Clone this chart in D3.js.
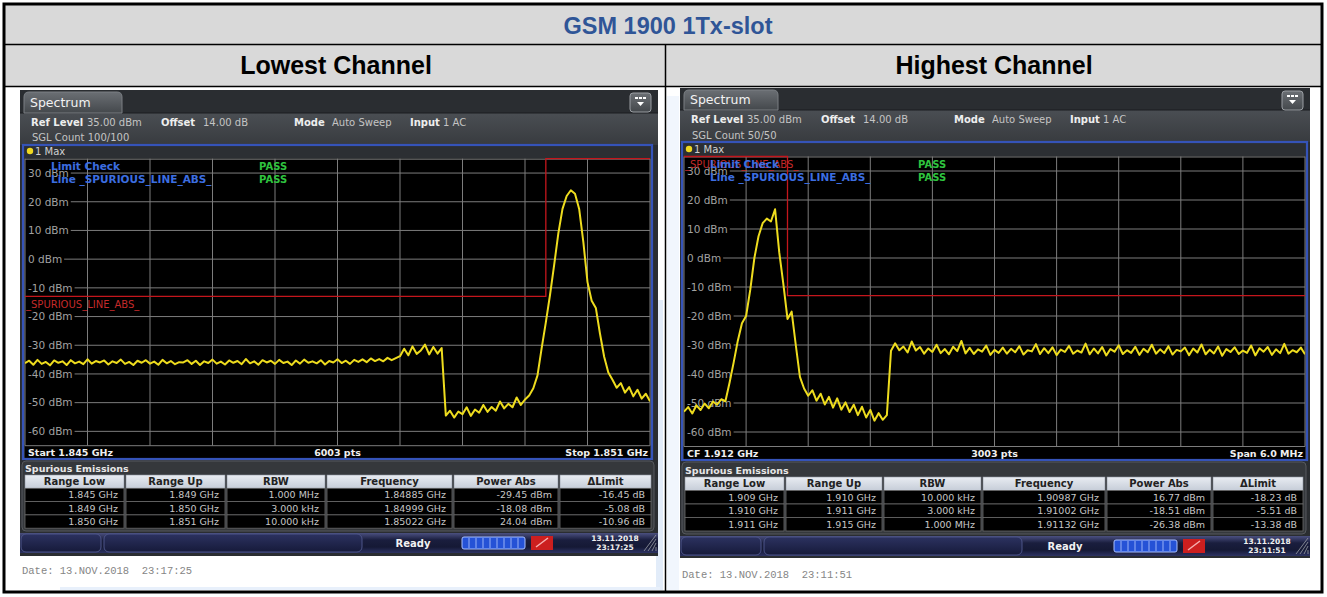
<!DOCTYPE html>
<html>
<head>
<meta charset="utf-8">
<style>
  body { margin: 0; background: #fff; }
  text { font-family: "DejaVu Sans", sans-serif; }
</style>
</head>
<body>
<svg width="1327" height="597"></svg>
<script src="https://d3js.org/d3.v7.min.js"></script>
<script>

// ---- data ----
var title = "GSM 1900 1Tx-slot";
var columnTitles = ["Lowest Channel", "Highest Channel"];
var dbmTicks = [30, 20, 10, 0, -10, -20, -30, -40, -50, -60];
var refLevel = 35, bottomLevel = -65;
var traceStepMHz = 0.04;

var lowStartMHz = 1845, lowStopMHz = 1851;
var highStartMHz = 1909, highStopMHz = 1915;

// max-hold trace, one value every 0.04 MHz from the start frequency (dBm)
var lowTrace = [
  -36.2,-35.4,-36.8,-35.1,-36.5,-35.8,-37.0,-35.3,-36.1,-35.6,
  -36.9,-35.2,-36.3,-35.7,-36.6,-34.9,-36.4,-35.5,-36.0,-35.3,
  -36.7,-35.6,-36.2,-35.0,-36.5,-35.8,-36.9,-35.4,-36.1,-35.2,
  -36.4,-35.7,-36.8,-35.1,-36.3,-35.5,-36.6,-35.9,-36.0,-35.2,
  -36.5,-35.4,-36.9,-35.6,-36.2,-35.0,-36.4,-35.7,-36.7,-35.3,
  -36.1,-35.5,-36.6,-34.8,-36.3,-35.6,-36.8,-35.2,-36.0,-35.4,
  -36.5,-35.1,-36.2,-35.7,-36.9,-35.3,-36.4,-35.0,-36.1,-35.6,
  -36.3,-35.2,-36.7,-35.5,-36.0,-34.9,-36.2,-35.4,-36.5,-35.1,
  -35.8,-34.9,-35.9,-34.6,-35.5,-34.8,-35.6,-34.4,-35.2,-34.5,
  -33.8,-31.2,-33.5,-30.4,-33.0,-31.8,-29.8,-33.2,-30.6,-32.9,-31.0,
  -54.5,-52.8,-55.2,-53.1,-54.0,-51.6,-54.6,-52.4,-53.5,-50.8,
  -53.2,-51.5,-52.8,-49.6,-52.0,-50.4,-51.6,-48.2,-50.8,-48.9,
  -47.5,-45.0,-40.5,-31.0,-22.0,-12.5,-2.0,9.0,17.5,22.0,
  24.0,22.8,17.5,6.0,-8.0,-14.5,-17.0,-26.0,-34.0,-39.5,
  -42.0,-44.8,-43.2,-46.5,-44.6,-47.8,-45.5,-48.6,-46.9,-49.5
];
var highTrace = [
  -53.0,-51.4,-53.6,-50.8,-52.4,-50.2,-51.8,-49.5,-50.6,-48.7,-49.4,
  -43.0,-36.0,-28.5,-22.5,-20.0,-11.0,0.0,7.5,12.0,13.6,
  12.6,16.8,2.0,-9.0,-21.0,-18.5,-30.0,-41.0,-45.0,-47.5,
  -45.6,-49.2,-46.8,-50.5,-47.9,-51.6,-48.4,-52.3,-49.8,-53.1,
  -50.6,-54.2,-51.3,-55.0,-52.4,-56.1,-53.5,-55.8,-54.2,
  -32.0,-29.4,-31.8,-30.5,-32.6,-28.8,-31.9,-30.7,-33.0,-31.2,
  -32.4,-29.9,-32.8,-31.4,-33.2,-30.6,-32.1,-28.6,-32.9,-31.0,
  -33.1,-31.5,-32.3,-30.2,-33.4,-31.7,-32.7,-30.9,-33.0,-31.3,
  -32.5,-30.4,-33.3,-31.8,-32.2,-29.7,-33.1,-31.1,-32.8,-30.8,
  -33.5,-31.6,-32.4,-30.3,-33.0,-31.9,-32.6,-29.5,-33.2,-31.2,
  -32.9,-30.7,-33.6,-31.4,-32.3,-30.1,-33.1,-31.8,-32.7,-30.6,
  -33.4,-31.3,-32.5,-29.9,-33.0,-31.5,-32.8,-30.4,-33.3,-31.7,
  -32.2,-30.9,-33.5,-31.2,-32.6,-29.8,-33.2,-31.6,-32.9,-30.5,
  -33.7,-31.4,-32.4,-30.8,-33.1,-31.9,-32.7,-30.2,-33.6,-31.1,
  -32.3,-30.7,-33.4,-31.5,-32.8,-29.6,-33.0,-31.8,-32.5,-30.9,
  -33.2
];

// limit line _SPURIOUS_LINE_ABS_
var lowLimitMHz = [1845, 1850, 1850, 1851];
var lowLimitDbm = [-13, -13, 35, 35];
var highLimitMHz = [1909, 1910, 1910, 1915];
var highLimitDbm = [35, 35, -13, -13];

var tableHeads = ["Range Low", "Range Up", "RBW", "Frequency", "Power Abs", "\u0394Limit"];
var lowRows = [
  ["1.845 GHz", "1.849 GHz", "1.000 MHz", "1.84885 GHz", "-29.45 dBm", "-16.45 dB"],
  ["1.849 GHz", "1.850 GHz", "3.000 kHz", "1.84999 GHz", "-18.08 dBm", "-5.08 dB"],
  ["1.850 GHz", "1.851 GHz", "10.000 kHz", "1.85022 GHz", "24.04 dBm", "-10.96 dB"]
];
var highRows = [
  ["1.909 GHz", "1.910 GHz", "10.000 kHz", "1.90987 GHz", "16.77 dBm", "-18.23 dB"],
  ["1.910 GHz", "1.911 GHz", "3.000 kHz", "1.91002 GHz", "-18.51 dBm", "-5.51 dB"],
  ["1.911 GHz", "1.915 GHz", "1.000 MHz", "1.91132 GHz", "-26.38 dBm", "-13.38 dB"]
];

var lowInfo = ["35.00 dBm", "14.00 dB", "Auto Sweep", "1 AC", "SGL Count 100/100"];
var highInfo = ["35.00 dBm", "14.00 dB", "Auto Sweep", "1 AC", "SGL Count 50/50"];
var lowFooter = ["Start 1.845 GHz", "6003 pts", "Stop 1.851 GHz"];
var highFooter = ["CF 1.912 GHz", "3003 pts", "Span 6.0 MHz"];
var lowStamp = ["13.11.2018", "23:17:25", "Date: 13.NOV.2018  23:17:25"];
var highStamp = ["13.11.2018", "23:11:51", "Date: 13.NOV.2018  23:11:51"];

// ---- layout of the two screenshots ----
var panels = [
  { start: lowStartMHz, stop: lowStopMHz, trace: lowTrace, limMHz: lowLimitMHz, limDbm: lowLimitDbm,
    info: lowInfo, foot: lowFooter, rows: lowRows, stamp: lowStamp, limLabel: "below",
    box: {x: 20, y: 90, w: 638, h: 466}, tabW: 98, tabB: 113, row1: 126, row2: 141, blue: 145, maxB: 155,
    plot: {l: 25, r: 650, t: 158.7, b: 445.7}, footB: 456, footBot: 459,
    spurY: 461, spurH: 70, spurB: 472, headY: 475, rowH: 13.3,
    cols: [[25,124],[126,225],[227,325],[327,452],[454,558],[560,651]],
    tool: [533, 553], dateB: 574 },
  { start: highStartMHz, stop: highStopMHz, trace: highTrace, limMHz: highLimitMHz, limDbm: highLimitDbm,
    info: highInfo, foot: highFooter, rows: highRows, stamp: highStamp, limLabel: "top",
    box: {x: 680, y: 88, w: 630, h: 470}, tabW: 94, tabB: 110, row1: 123, row2: 139, blue: 142, maxB: 153,
    plot: {l: 684, r: 1305, t: 156.5, b: 446.5}, footB: 457, footBot: 460,
    spurY: 462, spurH: 72, spurB: 474, headY: 477, rowH: 13.5,
    cols: [[685,784],[786,882],[884,981],[983,1105],[1107,1211],[1213,1303]],
    tool: [536, 556], dateB: 578 }
];

var svg = d3.select("svg");
var defs = svg.append("defs");

function grad(id, stops) {
  var lg = defs.append("linearGradient").attr("id", id)
      .attr("x1", 0).attr("y1", 0).attr("x2", 0).attr("y2", 1);
  stops.forEach(function(s) { lg.append("stop").attr("offset", s[0]).attr("stop-color", s[1]); });
}
grad("gInfo", [[0, "#4a4e53"], [1, "#383b3f"]]);
grad("gTab", [[0, "#6b6f74"], [1, "#44484c"]]);
grad("gTool", [[0, "#4b5080"], [0.35, "#1a1e3e"], [0.7, "#151935"], [1, "#2d3363"]]);
grad("gHead", [[0, "#e8ecf2"], [1, "#c6cdd8"]]);
grad("gSeg", [[0, "#2c3260"], [1, "#161a3a"]]);

// ---- document table ----
svg.append("rect").attr("x", 4).attr("y", 4).attr("width", 1318).attr("height", 82).attr("fill", "#d9d9d9");

// faint bluish page artefacts beside the screenshots
svg.append("rect").attr("x", 656).attr("y", 300).attr("width", 7).attr("height", 290).attr("fill", "#e2ecf9");
svg.append("rect").attr("x", 667).attr("y", 96).attr("width", 12).attr("height", 494).attr("fill", "#f1f6fd");
svg.append("rect").attr("x", 60).attr("y", 587).attr("width", 600).attr("height", 3).attr("fill", "#e8f0fb");

svg.append("line").attr("x1", 4).attr("x2", 1322).attr("y1", 44.5).attr("y2", 44.5).attr("stroke", "#000").attr("stroke-width", 1.5);
svg.append("line").attr("x1", 4).attr("x2", 1322).attr("y1", 86.5).attr("y2", 86.5).attr("stroke", "#000").attr("stroke-width", 1.5);
svg.append("line").attr("x1", 665.5).attr("x2", 665.5).attr("y1", 44).attr("y2", 593).attr("stroke", "#000").attr("stroke-width", 1.5);
svg.append("rect").attr("x", 4).attr("y", 4).attr("width", 1318).attr("height", 588)
    .attr("fill", "none").attr("stroke", "#000").attr("stroke-width", 3);

svg.append("text").attr("x", 668).attr("y", 34).attr("text-anchor", "middle")
    .style("font-family", "'Liberation Sans', Arial, sans-serif").attr("font-weight", 700)
    .attr("font-size", 23.5).attr("fill", "#2f5597").text(title);
columnTitles.forEach(function(t, i) {
  svg.append("text").attr("x", i ? 994 : 336).attr("y", 74).attr("text-anchor", "middle")
      .style("font-family", "'Liberation Sans', Arial, sans-serif").attr("font-weight", 700)
      .attr("font-size", 25).attr("fill", "#000").text(t);
});

// ---- one analyzer screenshot ----
function drawPanel(p, k) {
  var b = p.box, fr = b.x + b.w, g = svg.append("g");
  var x = d3.scaleLinear().domain([p.start, p.stop]).range([p.plot.l, p.plot.r]);
  var y = d3.scaleLinear().domain([bottomLevel, refLevel]).range([p.plot.b, p.plot.t]);

  g.append("rect").attr("x", b.x).attr("y", b.y).attr("width", b.w).attr("height", b.h).attr("fill", "#2a2d31");
  g.append("rect").attr("x", b.x).attr("y", p.tabB).attr("width", b.w).attr("height", p.blue - p.tabB).attr("fill", "url(#gInfo)");
  g.append("line").attr("x1", b.x).attr("x2", fr).attr("y1", p.tabB).attr("y2", p.tabB).attr("stroke", "#1b1d20");

  // tab
  var tx = b.x + 4, ty = b.y + 2, tw = p.tabW, th = p.tabB - ty;
  g.append("path")
      .attr("d", "M" + tx + "," + (ty + th) + "V" + (ty + 5) + "Q" + tx + "," + ty + " " + (tx + 5) + "," + ty +
                 "H" + (tx + tw - 5) + "Q" + (tx + tw) + "," + ty + " " + (tx + tw) + "," + (ty + 5) + "V" + (ty + th) + "Z")
      .attr("fill", "url(#gTab)").attr("stroke", "#7a7e83");
  g.append("text").attr("x", tx + 6).attr("y", ty + th - 6).attr("font-size", 12.5).attr("fill", "#f2f2f2").text("Spectrum");

  // menu button
  g.append("rect").attr("x", fr - 28).attr("y", b.y + 3).attr("width", 21).attr("height", 19).attr("rx", 3)
      .attr("fill", "url(#gTab)").attr("stroke", "#9a9ea3");
  [0, 1, 2].forEach(function(j) {
    g.append("rect").attr("x", fr - 23 + j * 4).attr("y", b.y + 7).attr("width", 3).attr("height", 2).attr("fill", "#fff");
  });
  g.append("path").attr("d", "M" + (fr - 21) + "," + (b.y + 12) + "h7l-3.5,4z").attr("fill", "#fff");

  // setting lines
  var infoX = [11, 67, 141, 183, 274, 312, 390, 423];
  var infoT = ["Ref Level", p.info[0], "Offset", p.info[1], "Mode", p.info[2], "Input", p.info[3]];
  infoT.forEach(function(t, i) {
    g.append("text").attr("x", b.x + infoX[i]).attr("y", p.row1)
        .attr("font-size", 10).attr("font-weight", i % 2 ? 400 : 700)
        .attr("fill", i % 2 ? "#c4c4c4" : "#eeeeee").text(t);
  });
  g.append("text").attr("x", b.x + 12).attr("y", p.row2).attr("font-size", 10).attr("fill", "#c4c4c4").text(p.info[4]);

  // trace header row
  g.append("rect").attr("x", p.plot.l - 2).attr("y", p.blue).attr("width", p.plot.r - p.plot.l + 4)
      .attr("height", p.plot.t - p.blue).attr("fill", "#2c2f33");
  g.append("circle").attr("cx", p.plot.l + 5).attr("cy", p.maxB - 4).attr("r", 3.2).attr("fill", "#f0d820");
  g.append("text").attr("x", p.plot.l + 10).attr("y", p.maxB).attr("font-size", 10).attr("fill", "#d0d0d0").text("1 Max");

  // plot area and footer row
  g.append("rect").attr("x", p.plot.l).attr("y", p.plot.t).attr("width", p.plot.r - p.plot.l)
      .attr("height", p.footBot - p.plot.t).attr("fill", "#000");

  var divs = d3.range(11).map(function(i) { return p.start + i * (p.stop - p.start) / 10; });
  g.selectAll(null).data(divs).enter().append("line")
      .attr("x1", function(d) { return x(d); }).attr("x2", function(d) { return x(d); })
      .attr("y1", p.plot.t).attr("y2", p.plot.b)
      .attr("stroke", "#7c7c7c").attr("stroke-width", 1);
  g.append("line").attr("x1", p.plot.l).attr("x2", p.plot.r).attr("y1", y(refLevel) + 0.5).attr("y2", y(refLevel) + 0.5)
      .attr("stroke", "#7c7c7c");
  g.append("line").attr("x1", p.plot.l).attr("x2", p.plot.r).attr("y1", y(bottomLevel)).attr("y2", y(bottomLevel))
      .attr("stroke", "#7c7c7c");

  dbmTicks.forEach(function(v) {
    var t = g.append("text").attr("x", p.plot.l + 3).attr("y", y(v) + 3.8)
        .attr("font-size", 10.5).attr("fill", "#a2a2a2").text(v + " dBm");
    var w = t.node().getComputedTextLength();
    g.insert("rect", function() { return t.node(); })
        .attr("x", p.plot.l + 1).attr("y", y(v) - 6).attr("width", w + 4).attr("height", 12).attr("fill", "#000");
    g.insert("line", function() { return t.node(); })
        .attr("x1", p.plot.l + w + 5).attr("x2", p.plot.r).attr("y1", y(v)).attr("y2", y(v))
        .attr("stroke", "#7c7c7c");
  });

  // limit line
  var lim = p.limMHz.map(function(f, i) { return [f, p.limDbm[i]]; });
  g.append("path").datum(lim)
      .attr("d", d3.line().x(function(d) { return x(d[0]); }).y(function(d) { return y(d[1]); }))
      .attr("fill", "none").attr("stroke", "#c4161c").attr("stroke-width", 1.3);
  g.append("text").attr("x", p.plot.l + 1)
      .attr("y", p.limLabel === "below" ? y(-13) + 12 : p.plot.t + 11)
      .attr("font-size", 10).attr("fill", "#c42a2a").text("_SPURIOUS_LINE_ABS_");

  // trace
  defs.append("clipPath").attr("id", "clip" + k).append("rect")
      .attr("x", p.plot.l).attr("y", p.plot.t).attr("width", p.plot.r - p.plot.l).attr("height", p.plot.b - p.plot.t);
  g.append("path").datum(p.trace)
      .attr("clip-path", "url(#clip" + k + ")")
      .attr("d", d3.line()
          .x(function(d, i) { return x(p.start + i * traceStepMHz); })
          .y(function(d) { return y(d); }))
      .attr("fill", "none").attr("stroke", "#eedc1e").attr("stroke-width", 2).attr("stroke-linejoin", "round");

  // limit check result
  [["Limit Check", 11], ["Line _SPURIOUS_LINE_ABS_", 24]].forEach(function(r) {
    g.append("text").attr("x", p.plot.l + 26).attr("y", p.plot.t + r[1]).attr("font-size", 10.5)
        .attr("font-weight", 700).attr("fill", "#3c6ee0").text(r[0]);
    g.append("text").attr("x", p.plot.l + 234).attr("y", p.plot.t + r[1]).attr("font-size", 10)
        .attr("font-weight", 700).attr("fill", "#2fc43f").text("PASS");
  });

  // footer
  g.append("text").attr("x", p.plot.l + 3).attr("y", p.footB).attr("font-size", 9.5).attr("font-weight", 700)
      .attr("fill", "#f0f0f0").text(p.foot[0]);
  g.append("text").attr("x", (p.plot.l + p.plot.r) / 2).attr("y", p.footB).attr("text-anchor", "middle")
      .attr("font-size", 9.5).attr("font-weight", 700).attr("fill", "#f0f0f0").text(p.foot[1]);
  g.append("text").attr("x", p.plot.r - 2).attr("y", p.footB).attr("text-anchor", "end")
      .attr("font-size", 9.5).attr("font-weight", 700).attr("fill", "#f0f0f0").text(p.foot[2]);

  g.append("rect").attr("x", p.plot.l - 2).attr("y", p.blue).attr("width", p.plot.r - p.plot.l + 4)
      .attr("height", p.footBot - p.blue).attr("fill", "none").attr("stroke", "#3553b8").attr("stroke-width", 2.2);

  // spurious emissions table
  g.append("rect").attr("x", b.x + 2).attr("y", p.spurY).attr("width", b.w - 6).attr("height", p.spurH).attr("rx", 4)
      .attr("fill", "#35383c").attr("stroke", "#56595e");
  g.append("text").attr("x", b.x + 5).attr("y", p.spurB).attr("font-size", 9.5).attr("font-weight", 700)
      .attr("fill", "#e6e6e6").text("Spurious Emissions");

  p.cols.forEach(function(c, j) {
    g.append("rect").attr("x", c[0]).attr("y", p.headY).attr("width", c[1] - c[0]).attr("height", p.rowH)
        .attr("fill", "url(#gHead)").attr("stroke", "#8c93a0").attr("stroke-width", 0.6);
    g.append("text").attr("x", (c[0] + c[1]) / 2).attr("y", p.headY + p.rowH - 3.3).attr("text-anchor", "middle")
        .attr("font-size", 10).attr("font-weight", 700).attr("fill", "#222").text(tableHeads[j]);
    p.rows.forEach(function(row, r) {
      var ry = p.headY + p.rowH * (r + 1);
      g.append("rect").attr("x", c[0]).attr("y", ry).attr("width", c[1] - c[0]).attr("height", p.rowH)
          .attr("fill", "#000").attr("stroke", "#6a6a6a").attr("stroke-width", 0.8);
      g.append("text").attr("x", c[1] - 6).attr("y", ry + p.rowH - 3.3).attr("text-anchor", "end")
          .attr("font-size", 9.5).attr("fill", "#c6c6c6").text(row[j]);
    });
  });

  // status bar
  var t0 = p.tool[0], th2 = p.tool[1] - p.tool[0];
  g.append("rect").attr("x", b.x).attr("y", t0).attr("width", b.w).attr("height", th2).attr("fill", "url(#gTool)");
  g.append("rect").attr("x", b.x + 1).attr("y", t0 + 1).attr("width", 80).attr("height", th2 - 2).attr("rx", 5)
      .attr("fill", "url(#gSeg)").attr("stroke", "#4d5588");
  g.append("rect").attr("x", b.x + 84).attr("y", t0 + 1).attr("width", 258).attr("height", th2 - 2).attr("rx", 5)
      .attr("fill", "url(#gSeg)").attr("stroke", "#4d5588");
  g.append("text").attr("x", fr - 245).attr("y", t0 + 14).attr("text-anchor", "middle").attr("font-size", 10)
      .attr("font-weight", 700).attr("fill", "#f2f2f2").text("Ready");
  g.append("rect").attr("x", fr - 196).attr("y", t0 + 4).attr("width", 63).attr("height", 12).attr("rx", 2)
      .attr("fill", "#2552d6").attr("stroke", "#a9c0ff");
  d3.range(1, 9).forEach(function(j) {
    g.append("line").attr("x1", fr - 196 + j * 7).attr("x2", fr - 196 + j * 7).attr("y1", t0 + 5).attr("y2", t0 + 15)
        .attr("stroke", "#b8ccff").attr("stroke-width", 0.8);
  });
  g.append("rect").attr("x", fr - 127).attr("y", t0 + 3).attr("width", 22).attr("height", 14).attr("fill", "#cc1f1f");
  g.append("path").attr("d", "M" + (fr - 122) + "," + (t0 + 14) + "l12,-9").attr("stroke", "#f6b0b0").attr("stroke-width", 1.5);
  g.append("text").attr("x", fr - 43).attr("y", t0 + 8).attr("text-anchor", "middle").attr("font-size", 7.5)
      .attr("font-weight", 700).attr("fill", "#f0f0f0").text(p.stamp[0]);
  g.append("text").attr("x", fr - 43).attr("y", t0 + 17).attr("text-anchor", "middle").attr("font-size", 7.5)
      .attr("font-weight", 700).attr("fill", "#f0f0f0").text(p.stamp[1]);
  d3.range(4).forEach(function(j) {
    g.append("line").attr("x1", fr - 2 - j * 4).attr("y1", p.tool[1] - 2)
        .attr("x2", fr - 2).attr("y2", p.tool[1] - 2 - j * 4 - 4)
        .attr("stroke", "#9a9ea6").attr("stroke-width", 0.8);
  });

  // capture date under the screenshot
  g.append("text").attr("x", b.x + 2).attr("y", p.dateB).style("font-family", "'Liberation Mono', monospace")
      .style("white-space", "pre").attr("xml:space", "preserve")
      .attr("font-size", 10.5).attr("fill", "#858585").text(p.stamp[2]);
}

panels.forEach(drawPanel);

</script>
</body>
</html>
